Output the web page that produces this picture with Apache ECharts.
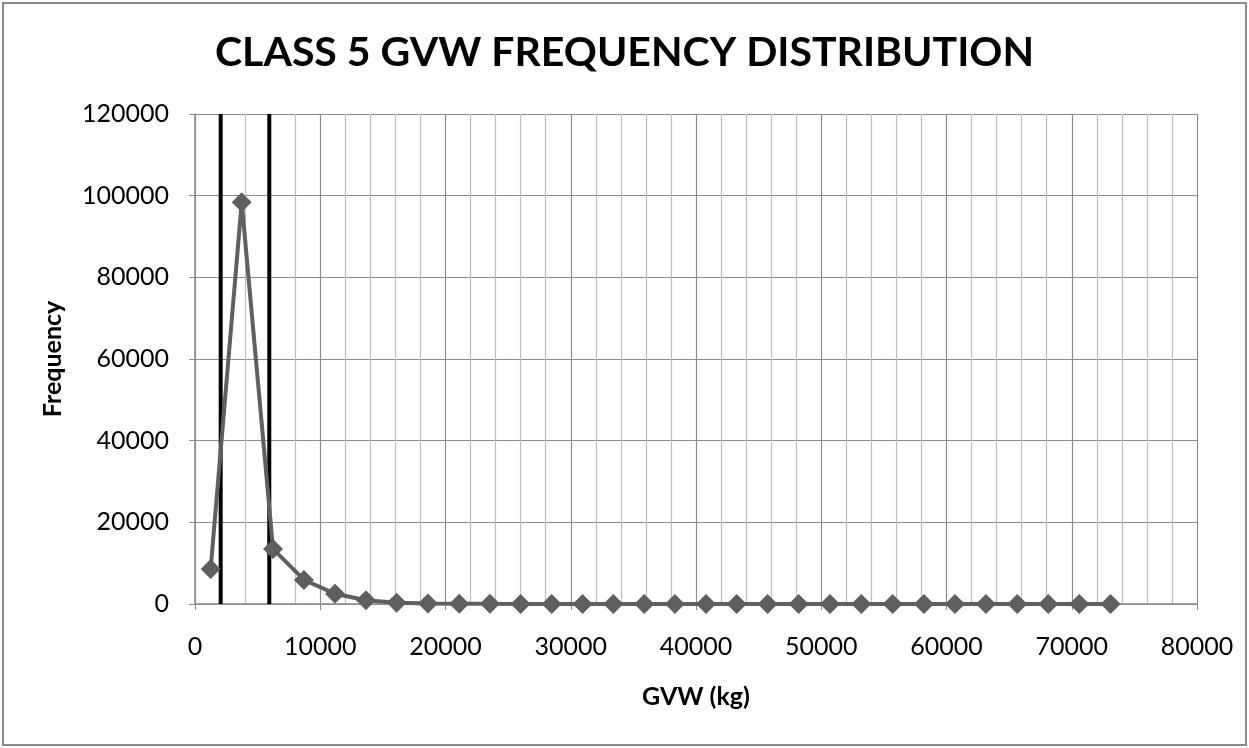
<!DOCTYPE html>
<html>
<head>
<meta charset="utf-8">
<script src="https://cdn.jsdelivr.net/npm/echarts@6/dist/echarts.min.js"></script>
<style>
  html, body { margin: 0; padding: 0; background: #fff; }
  #chart { width: 1249px; height: 748px; }
</style>
</head>
<body>
<div id="chart"></div>
<script>
// GVW bin centres (kg) and counts
const gvw = [1250, 3730, 6230, 8700, 11180, 13650, 16100, 18600, 21100, 23550,
  26000, 28480, 30950, 33400, 35870, 38320, 40800, 43250, 45720, 48200,
  50700, 53200, 55700, 58200, 60680, 63150, 65650, 68130, 70600, 73100]
const frequency = [8600, 98400, 13500, 5900, 2500, 900, 300, 120, 60, 40,
  30, 20, 15, 10, 10, 5, 5, 5, 0, 0,
  0, 0, 0, 0, 0, 0, 0, 0, 0, 0]
// vertical black limit lines (kg)
const limitLines = [2050, 5930]
const yRange = [0, 120000]

const font = 'Lato, "Open Sans", sans-serif'
const chart = echarts.init(document.getElementById('chart'))

// plain numbers, no thousands separator
const plain = function (v) { return String(v) }

const limitSeries = limitLines.map(function (x) {
  return {
    type: 'line',
    data: [[x, yRange[0]], [x, yRange[1]]],
    symbol: 'none',
    silent: true,
    lineStyle: { color: '#000', width: 4 },
    z: 2
  }
})

chart.setOption({
  animation: false,
  title: {
    text: 'CLASS 5 GVW FREQUENCY DISTRIBUTION',
    left: 'center',
    top: 27,
    textStyle: { fontFamily: font, fontSize: 41, fontWeight: 'bold', color: '#000' }
  },
  graphic: [{
    type: 'rect',
    shape: { x: 3, y: 3, width: 1243, height: 742 },
    style: { fill: 'none', stroke: '#8a8a8a', lineWidth: 2 }
  }],
  grid: { left: 195, right: 52, top: 114, bottom: 144 },
  xAxis: {
    type: 'value',
    min: 0,
    max: 80000,
    interval: 10000,
    name: 'GVW (kg)',
    nameLocation: 'middle',
    nameGap: 80,
    nameTextStyle: { fontFamily: font, fontSize: 25, fontWeight: 'bold', color: '#000' },
    axisLine: { show: true, onZero: false, lineStyle: { color: '#8c8c8c', width: 1.5 } },
    axisTick: { show: true, length: 6, lineStyle: { color: '#8c8c8c' } },
    axisLabel: { fontFamily: font, fontSize: 25, color: '#000', margin: 30, formatter: plain },
    splitLine: { show: true, lineStyle: { color: '#8c8c8c', width: 1.2 } },
    minorTick: { show: false, splitNumber: 5 },
    minorSplitLine: { show: true, lineStyle: { color: '#bdbdbd', width: 1.2 } }
  },
  yAxis: {
    type: 'value',
    min: yRange[0],
    max: yRange[1],
    interval: 20000,
    name: 'Frequency',
    nameLocation: 'middle',
    nameGap: 130,
    nameTextStyle: { fontFamily: font, fontSize: 25, fontWeight: 'bold', color: '#000' },
    axisLine: { show: true, lineStyle: { color: '#8c8c8c', width: 1.5 } },
    axisTick: { show: true, length: 6, lineStyle: { color: '#8c8c8c' } },
    axisLabel: { fontFamily: font, fontSize: 25, color: '#000', margin: 26, formatter: plain },
    splitLine: { show: true, lineStyle: { color: '#8c8c8c', width: 1.2 } }
  },
  series: limitSeries.concat([{
    type: 'line',
    data: gvw.map(function (x, i) { return [x, frequency[i]] }),
    symbol: 'diamond',
    symbolSize: 20,
    lineStyle: { color: '#5f5f5f', width: 4 },
    itemStyle: { color: '#5f5f5f' },
    z: 3
  }])
})
</script>
</body>
</html>
